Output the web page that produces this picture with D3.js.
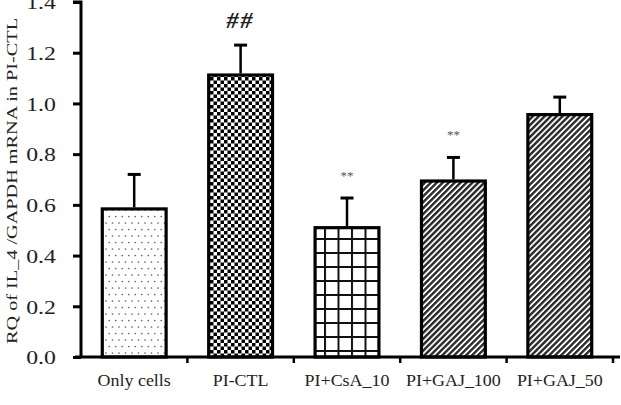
<!DOCTYPE html>
<html><head><meta charset="utf-8">
<script src="https://cdn.jsdelivr.net/npm/d3@7"></script>
<style>body{margin:0;background:#fff}svg{display:block}text{font-family:"Liberation Serif","Times New Roman",serif}</style>
</head><body>
<svg id="c" width="621" height="405"></svg>
<script>
const categories = ["Only cells","PI-CTL","PI+CsA_10","PI+GAJ_100","PI+GAJ_50"];
const values = [0.584, 1.112, 0.51, 0.694, 0.956];
const errors = [0.136, 0.118, 0.117, 0.093, 0.069];
const marks = ["", "##", "**", "**", ""];
const patterns = ["dots","check","grid","hatch","hatch"];
const yTicks = [0.0,0.2,0.4,0.6,0.8,1.0,1.2,1.4];
const yLabel = "RQ of IL_4 /GAPDH mRNA in PI-CTL";

const svg = d3.select("#c");
const defs = svg.append("defs");
// dots
let p = defs.append("pattern").attr("id","dots").attr("patternUnits","userSpaceOnUse").attr("width",13).attr("height",13);
p.append("rect").attr("width",13).attr("height",13).attr("fill","#fff");
[[2,2],[8.5,2],[5.25,8.5],[11.75,8.5]].forEach(([x,y])=>p.append("circle").attr("cx",x).attr("cy",y).attr("r",0.85).attr("fill","#666"));
// checker
p = defs.append("pattern").attr("id","check").attr("patternUnits","userSpaceOnUse").attr("width",7).attr("height",7);
p.append("rect").attr("width",7).attr("height",7).attr("fill","#fff");
p.append("rect").attr("width",3.5).attr("height",3.5).attr("fill","#000");
p.append("rect").attr("x",3.5).attr("y",3.5).attr("width",3.5).attr("height",3.5).attr("fill","#000");
// grid
p = defs.append("pattern").attr("id","grid").attr("patternUnits","userSpaceOnUse").attr("width",13.5).attr("height",14);
p.append("rect").attr("width",13.5).attr("height",14).attr("fill","#fff");
p.append("rect").attr("x",0).attr("width",2).attr("height",14).attr("fill","#111");
p.append("rect").attr("y",0).attr("width",13.5).attr("height",2).attr("fill","#111");
// hatch
p = defs.append("pattern").attr("id","hatch").attr("patternUnits","userSpaceOnUse").attr("width",4.2).attr("height",4.2).attr("patternTransform","rotate(45)");
p.append("rect").attr("width",4.2).attr("height",4.2).attr("fill","#fff");
p.append("rect").attr("x",0).attr("width",2.4).attr("height",4.2).attr("fill","#2a2a2a");

const x0 = 81, x1 = 613, yBase = 357, yTop = 2;
const x = d3.scaleBand().domain(categories).range([x0,x1]).paddingInner(0.4).paddingOuter(0.2);
const y = d3.scaleLinear().domain([0,1.4]).range([yBase,yTop]);

function stretch(sel, f){ sel.each(function(){ const w=this.getComputedTextLength(); d3.select(this).attr("textLength",w*f).attr("lengthAdjust","spacingAndGlyphs"); }); }

// bars
const g = svg.append("g");
g.selectAll("rect.bar").data(categories).join("rect").attr("class","bar")
 .attr("x",d=>x(d)).attr("width",x.bandwidth())
 .attr("y",(d,i)=>y(values[i])).attr("height",(d,i)=>yBase-y(values[i]))
 .attr("fill",(d,i)=>`url(#${patterns[i]})`).attr("stroke","#000").attr("stroke-width",3.2);
// error bars
categories.forEach((c,i)=>{
  const cx = x(c)+x.bandwidth()/2;
  g.append("line").attr("x1",cx).attr("x2",cx).attr("y1",y(values[i])-1.5).attr("y2",y(values[i]+errors[i])).attr("stroke","#000").attr("stroke-width",2.5);
  g.append("line").attr("x1",cx-6.5).attr("x2",cx+6.5).attr("y1",y(values[i]+errors[i])).attr("y2",y(values[i]+errors[i])).attr("stroke","#000").attr("stroke-width",3);
  if(marks[i]){
    const big = marks[i]==="##";
    g.append("text").attr("x",cx).attr("y", y(values[i]+errors[i]) - (big?17:18)).attr("text-anchor","middle")
     .attr("font-size", big?24:13).attr("font-style", big?"italic":"normal").attr("font-weight", big?"bold":"normal")
     .attr("letter-spacing", big?2:0)
     .attr("fill", big?"#222":"#555").text(marks[i]);
  }
});

// y axis
const ya = svg.append("g").attr("transform",`translate(${x0},0)`)
 .call(d3.axisLeft(y).tickValues(yTicks).tickFormat(d3.format(".1f")).tickSize(8).tickPadding(26));
ya.select(".domain").attr("stroke-width",3).attr("d",`M-8,${yTop}H0V${yBase}`);
ya.selectAll(".tick line").attr("stroke-width",3);
ya.selectAll(".tick text").attr("font-size",19).attr("font-family","Liberation Serif").attr("fill","#222").attr("dy","0.36em")
  .attr("text-anchor","middle").attr("x",-40);
stretch(ya.selectAll(".tick text"), 1.25);

// x axis
const xa = svg.append("g").attr("transform",`translate(0,${yBase})`);
xa.append("line").attr("x1",x0-6).attr("x2",620).attr("y1",0).attr("y2",0).attr("stroke","#000").attr("stroke-width",3);
d3.range(1,6).forEach(k=>{
  const tx = x0 + k*(x1-x0)/5;
  xa.append("line").attr("x1",tx).attr("x2",tx).attr("y1",0).attr("y2",6).attr("stroke","#000").attr("stroke-width",2.5);
});
const xl = xa.selectAll("text.cat").data(categories).join("text").attr("class","cat")
 .attr("x",d=>x(d)+x.bandwidth()/2).attr("y",29).attr("text-anchor","middle")
 .attr("font-size",16).attr("fill","#222").text(d=>d);
stretch(xl, 1.12);

// y label
svg.append("text").attr("transform","translate(17,181) rotate(-90)").attr("text-anchor","middle")
 .attr("font-size",14).attr("fill","#222").text(yLabel)
 .attr("textLength",326).attr("lengthAdjust","spacingAndGlyphs");
</script>
</body></html>
